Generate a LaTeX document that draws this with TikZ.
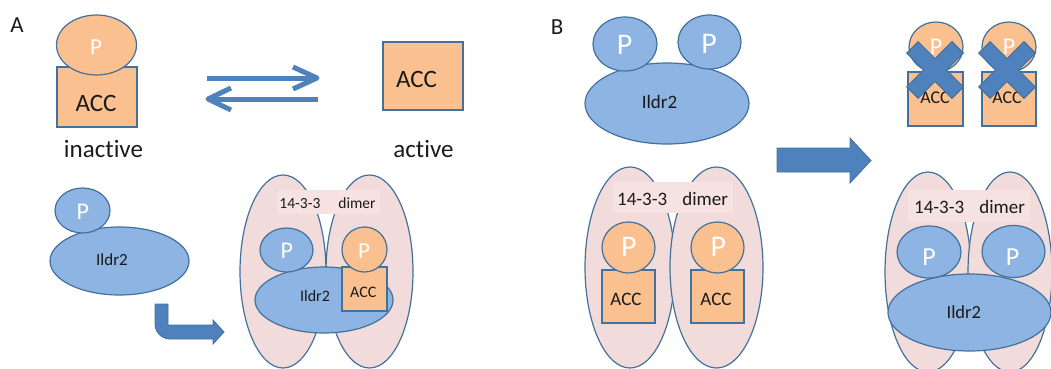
\documentclass[tikz,border=0pt]{standalone}
\usepackage{fontspec}
\setmainfont{Carlito}[Ligatures=NoCommon]
\usetikzlibrary{shapes.geometric}
\definecolor{orf}{HTML}{FAC090}
\definecolor{blf}{HTML}{8DB4E2}
\definecolor{pkf}{HTML}{F2DCDB}
\definecolor{lbf}{HTML}{F5E2E1}
\definecolor{edgec}{HTML}{41719C}
\definecolor{arrc}{HTML}{4F81BD}
\definecolor{txtc}{HTML}{1A1A1A}
\newcommand\myfs[1]{\fontsize{#1}{#1}\selectfont}
\begin{document}
\begin{tikzpicture}[x=1pt,y=-1pt,
  shapebase/.style={draw=edgec, line width=1.2pt, inner sep=0pt, outer sep=0pt},
  oell/.style={shapebase, ellipse, fill=orf},
  bell/.style={shapebase, ellipse, fill=blf},
  obox/.style={shapebase, rectangle, fill=orf},
  dimerell/.style={shapebase, ellipse, fill=pkf},
  lblbox/.style={rectangle, fill=lbf, inner sep=0pt, outer sep=0pt},
  txt/.style={inner sep=0pt, anchor=base, text=txtc},
  ptxt/.style={inner sep=0pt, anchor=base, text=white},
  thinarrow/.style={draw=arrc, line width=5pt, line cap=butt, line join=miter},
  blockarrow/.style={fill=arrc, draw=edgec, line width=0.8pt, line join=miter},
  xouter/.style={draw=edgec, line width=17pt, line cap=butt},
  xinner/.style={draw=arrc, line width=15pt, line cap=butt}]
\useasboundingbox (0,0) rectangle (1051,369);

% ---------------- Panel A, top ----------------
\node[txt, font=\myfs{23}] (labA) at (17,33) {A};
\node[obox, minimum width=80pt, minimum height=60pt] (accA) at (97,97) {};
\node[oell, minimum width=80pt, minimum height=60pt] (pA) at (96.5,45) {};
\node[ptxt, font=\myfs{23}] (pAt) at (96,55) {P};
\node[txt, font=\myfs{25}] (accAt) at (96,111) {ACC};
\node[txt, font=\myfs{25}] (inact) at (103.5,157) {inactive};

\node[obox, minimum width=80pt, minimum height=68pt] (accAct) at (423,76) {};
\node[txt, font=\myfs{25}] (accActt) at (416.5,87) {ACC};
\node[txt, font=\myfs{25}] (act) at (423.5,157) {active};

\coordinate (fa1) at (207,78);
\coordinate (fa2) at (315,78);
\coordinate (fh1) at (293,67);
\coordinate (fh2) at (317,78);
\coordinate (fh3) at (293,89);
\draw[thinarrow] (fa1) -- (fa2);
\draw[thinarrow, line join=round] (fh1) -- (fh2) -- (fh3);
\coordinate (ba1) at (318,99);
\coordinate (ba2) at (210,99);
\coordinate (bh1) at (231,88);
\coordinate (bh2) at (208,99);
\coordinate (bh3) at (231,110);
\draw[thinarrow] (ba1) -- (ba2);
\draw[thinarrow, line join=round] (bh1) -- (bh2) -- (bh3);

% ---------------- Panel A, bottom ----------------
\node[bell, minimum width=139pt, minimum height=68pt] (ildA) at (119.5,261) {};
\node[bell, minimum width=55pt, minimum height=45pt] (pA2) at (82.5,210.5) {};
\node[ptxt, font=\myfs{24}] (pA2t) at (82.7,219) {P};
\node[txt, font=\myfs{17}] (ildAt) at (112,265) {Ildr2};

\draw[blockarrow] (155,304) -- (168,304) -- (168,325) -- (213,325) -- (213,320)
  -- (224,332) -- (213,344) -- (213,339) -- (170,339)
  .. controls (161.7,339) and (155,332.3) .. (155,324) -- cycle;

\node[dimerell, minimum width=86pt, minimum height=193pt] (dA1) at (283,271.5) {};
\node[dimerell, minimum width=87pt, minimum height=193pt] (dA2) at (369.5,271.5) {};
\node[lblbox, minimum width=103pt, minimum height=24pt] (lblA) at (328.5,202) {};
\node[txt, font=\myfs{15.5}] (lblAt) at (327.5,208) {14-3-3\hspace{18pt}dimer};
\node[bell, minimum width=138pt, minimum height=66pt] (ildA2) at (324,300) {};
\node[bell, minimum width=53pt, minimum height=44pt] (pA3) at (286.5,250) {};
\node[ptxt, font=\myfs{24}] (pA3t) at (286.7,258) {P};
\node[obox, minimum width=45pt, minimum height=44pt] (accA2) at (364.5,289) {};
\node[oell, minimum width=45pt, minimum height=45pt] (pA4) at (364.5,249.5) {};
\node[ptxt, font=\myfs{23}] (pA4t) at (364,258) {P};
\node[txt, font=\myfs{16}] (ildA2t) at (315,301.7) {Ildr2};
\node[txt, font=\myfs{16}] (accA2t) at (363.3,297) {ACC};

% ---------------- Panel B, top ----------------
\node[txt, font=\myfs{23}] (labB) at (557,35) {B};
\node[bell, minimum width=164pt, minimum height=81pt] (ildB) at (667,103.5) {};
\node[bell, minimum width=64pt, minimum height=54pt] (pB1) at (625,44) {};
\node[bell, minimum width=63pt, minimum height=54pt] (pB2) at (709.5,42) {};
\node[ptxt, font=\myfs{30}] (pB1t) at (624.5,55) {P};
\node[ptxt, font=\myfs{30}] (pB2t) at (709,53) {P};
\node[txt, font=\myfs{19}] (ildBt) at (659.5,108) {Ildr2};

\draw[blockarrow] (777,148) -- (850,148) -- (850,138) -- (871,160.5) -- (850,183)
  -- (850,172) -- (777,172) -- cycle;

% crossed-out ACC
\node[obox, minimum width=55pt, minimum height=54pt] (accX1) at (935.5,99) {};
\node[oell, minimum width=54pt, minimum height=50pt] (pX1) at (936,47) {};
\node[ptxt, font=\myfs{24}] (pX1t) at (936,55) {P};
\node[txt, font=\myfs{18}] (accX1t) at (935,103.3) {ACC};
\node[obox, minimum width=54pt, minimum height=54pt] (accX2) at (1009,99) {};
\node[oell, minimum width=54pt, minimum height=50pt] (pX2) at (1009,47) {};
\node[ptxt, font=\myfs{24}] (pX2t) at (1009,55) {P};
\node[txt, font=\myfs{18}] (accX2t) at (1007,103.3) {ACC};
\coordinate (xa1) at (912,47);  \coordinate (xa2) at (958,93);
\coordinate (xa3) at (958,47);  \coordinate (xa4) at (912,93);
\coordinate (xb1) at (984,47);  \coordinate (xb2) at (1030,93);
\coordinate (xb3) at (1030,47); \coordinate (xb4) at (984,93);
\coordinate (ya1) at (913,48);  \coordinate (ya2) at (957,92);
\coordinate (ya3) at (957,48);  \coordinate (ya4) at (913,92);
\coordinate (yb1) at (985,48);  \coordinate (yb2) at (1029,92);
\coordinate (yb3) at (1029,48); \coordinate (yb4) at (985,92);
\draw[xouter] (xa1) -- (xa2);
\draw[xouter] (xa3) -- (xa4);
\draw[xouter] (xb1) -- (xb2);
\draw[xouter] (xb3) -- (xb4);
\draw[xinner] (ya1) -- (ya2);
\draw[xinner] (ya3) -- (ya4);
\draw[xinner] (yb1) -- (yb2);
\draw[xinner] (yb3) -- (yb4);

% ---------------- Panel B, bottom left ----------------
\node[dimerell, minimum width=90pt, minimum height=201pt] (dB1) at (630,267.5) {};
\node[dimerell, minimum width=93pt, minimum height=201pt] (dB2) at (716.5,267.5) {};
\node[lblbox, minimum width=120pt, minimum height=31pt] (lblB) at (673,197.5) {};
\node[txt, font=\myfs{19}] (lblBt) at (672.5,205) {14-3-3\hspace{15pt}dimer};
\node[obox, minimum width=53pt, minimum height=53pt] (accB1) at (628.5,296.5) {};
\node[oell, minimum width=53pt, minimum height=51pt] (pB3) at (628.5,247.5) {};
\node[ptxt, font=\myfs{30}] (pB3t) at (628.8,256.7) {P};
\node[txt, font=\myfs{19}] (accB1t) at (626,305) {ACC};
\node[obox, minimum width=53pt, minimum height=53pt] (accB2) at (717.5,296.5) {};
\node[oell, minimum width=53pt, minimum height=51pt] (pB4) at (717.5,247.5) {};
\node[ptxt, font=\myfs{30}] (pB4t) at (718.3,256.7) {P};
\node[txt, font=\myfs{19}] (accB2t) at (716,305) {ACC};

% ---------------- Panel B, bottom right ----------------
\node[dimerell, minimum width=86pt, minimum height=200pt] (dC1) at (928,272) {};
\node[dimerell, minimum width=84pt, minimum height=200pt] (dC2) at (1010,272) {};
\node[lblbox, minimum width=122pt, minimum height=32pt] (lblC) at (969,206) {};
\node[txt, font=\myfs{19}] (lblCt) at (969.5,213.3) {14-3-3\hspace{15pt}dimer};
\node[bell, minimum width=64pt, minimum height=52pt] (pC1) at (929,252) {};
\node[bell, minimum width=63pt, minimum height=52pt] (pC2) at (1013.5,251.5) {};
\node[bell, minimum width=163pt, minimum height=77pt] (ildC) at (969.5,312.5) {};
\node[ptxt, font=\myfs{26}] (pC1t) at (929,265) {P};
\node[ptxt, font=\myfs{26}] (pC2t) at (1012.5,265) {P};
\node[txt, font=\myfs{18.5}] (ildCt) at (963.8,318.3) {Ildr2};
\end{tikzpicture}
\end{document}
